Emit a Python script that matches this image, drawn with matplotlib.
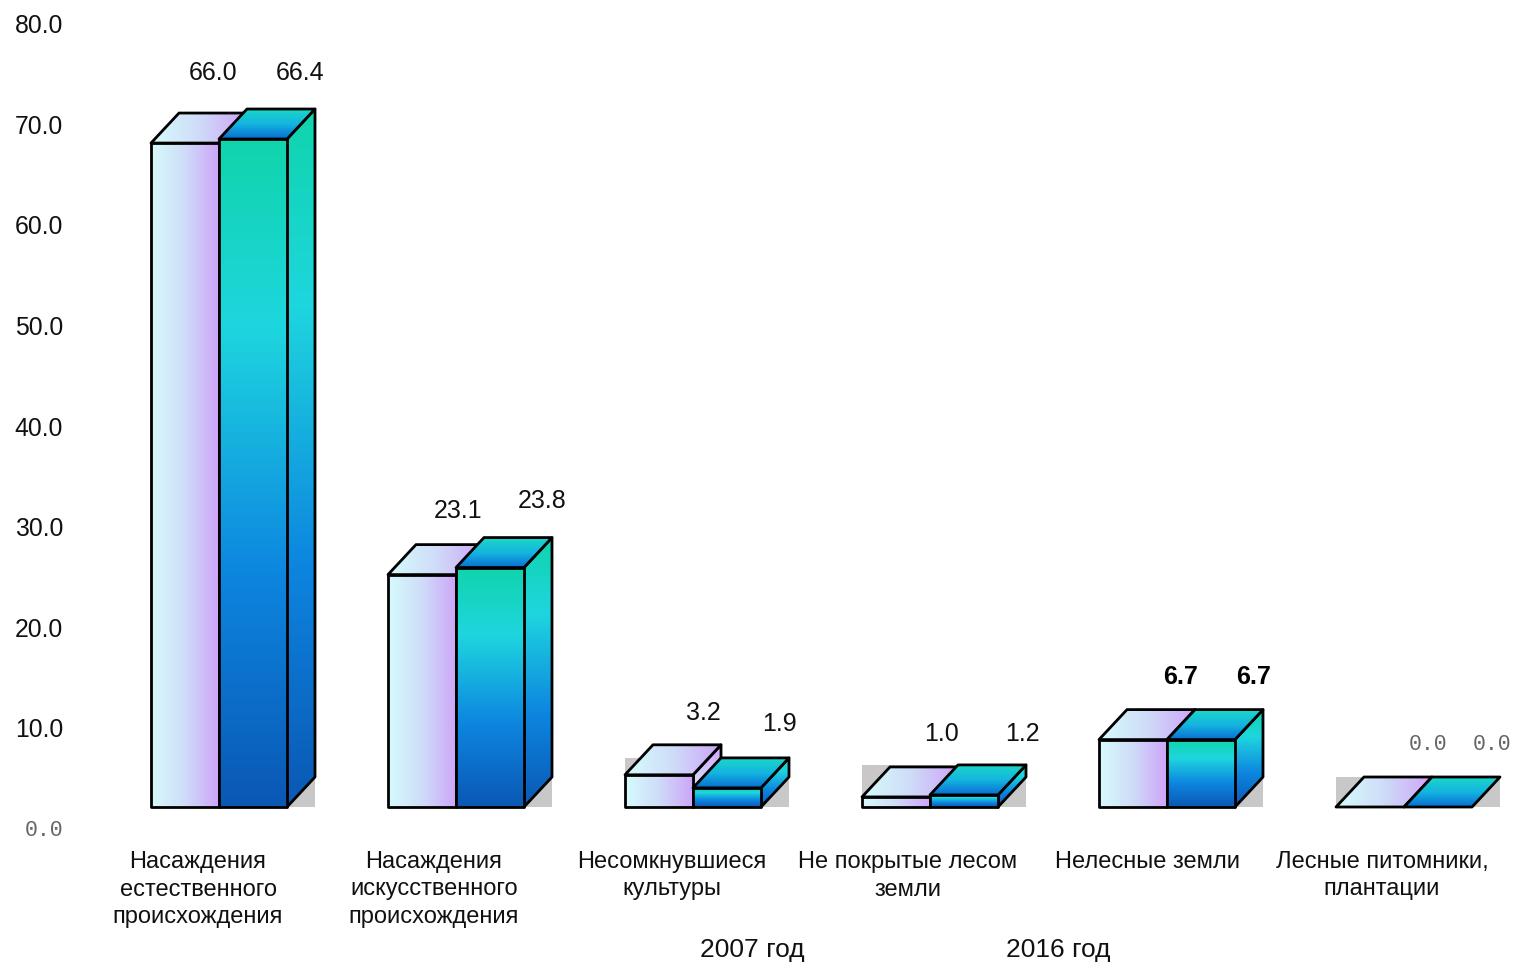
import numpy as np
import matplotlib
matplotlib.use('Agg')
import matplotlib.pyplot as plt
from matplotlib.colors import LinearSegmentedColormap
from matplotlib.patches import Polygon, Rectangle

categories = ['Насаждения\nестественного\nпроисхождения',
              'Насаждения\nискусственного\nпроисхождения',
              'Несомкнувшиеся\nкультуры',
              'Не покрытые лесом\nземли',
              'Нелесные земли',
              'Лесные питомники,\nплантации']
values_2007 = [66.0, 23.1, 3.2, 1.0, 6.7, 0.0]
values_2016 = [66.4, 23.8, 1.9, 1.2, 6.7, 0.0]
series_names = ['2007 год', '2016 год']
y_ticks = [0, 10, 20, 30, 40, 50, 60, 70, 80]

W, H = 1517, 964
BASE_PX = 807
PX_PER_UNIT = 10.06
GROUP_PX = 237
FIRST_PX = 219
BAR_W = 68 / GROUP_PX
DX = 28 / GROUP_PX
DY = 30 / PX_PER_UNIT
TEXT_DY = 2

lilac = LinearSegmentedColormap.from_list('lilac', ['#d6fcfc', '#cfdcf8', '#cda4f8'])
lilac_side = LinearSegmentedColormap.from_list('lilac_side', ['#d6fcfc', '#cda4f8'])
teal = LinearSegmentedColormap.from_list('teal', [(0, '#0a58b4'), (0.35, '#0d86e0'),
                                                  (0.72, '#1ed6de'), (1, '#10d4ac')])
teal_top = LinearSegmentedColormap.from_list('teal_top', ['#0a6cd2', '#14b4e0', '#1ad8c8'])

plt.rcParams['font.family'] = ['Liberation Sans', 'DejaVu Sans']
fig = plt.figure(figsize=(W / 100, H / 100), dpi=100)
ax = fig.add_axes([0, 0, 1, 1])
ax.axis('off')
xlim = (-FIRST_PX / GROUP_PX, (W - FIRST_PX) / GROUP_PX)
ylim = (-(H - BASE_PX) / PX_PER_UNIT, BASE_PX / PX_PER_UNIT)


def px(x, y):
    # picture pixels to data coordinates, only for placing the texts
    return (x - FIRST_PX) / GROUP_PX, (BASE_PX - y - TEXT_DY) / PX_PER_UNIT


order = [10]


def face(points, cmap, horizontal):
    points = np.array(points)
    z = order[0]
    order[0] += 2
    x0, x1 = points[:, 0].min(), points[:, 0].max()
    y0, y1 = points[:, 1].min(), points[:, 1].max()
    if y1 > y0:
        grad = np.linspace(0, 1, 256)
        grad = grad[None, :] if horizontal else grad[:, None]
        im = ax.imshow(grad, cmap=cmap, extent=(x0, x1, y0, y1), origin='lower',
                       aspect='auto', interpolation='bilinear', zorder=z)
        clip = Polygon(points, closed=True, transform=ax.transData)
        im.set_clip_path(clip)
    ax.add_patch(Polygon(points, closed=True, fill=False, edgecolor='black',
                         linewidth=2.0, joinstyle='round', zorder=z + 1))


def bar3d(left, value, front_cmap, front_h, side_cmap, top_cmap, top_h):
    right = left + BAR_W
    if value > 0:
        face([(right, 0), (right + DX, DY), (right + DX, value + DY), (right, value)],
             side_cmap, False)
    face([(left, value), (right, value), (right + DX, value + DY), (left + DX, value + DY)],
         top_cmap, top_h)
    if value > 0:
        face([(left, 0), (right, 0), (right, value), (left, value)], front_cmap, front_h)


for i in range(len(categories)):
    v1, v2 = values_2007[i], values_2016[i]
    # grey floor behind each pair, it reaches the back edge only on low bars
    shadow = DY + v2 if v2 <= 2 else DY
    ax.add_patch(Rectangle((i - BAR_W, 0), 2 * BAR_W + DX, shadow, facecolor='#c8c8c8',
                           edgecolor='none', zorder=5))
    bar3d(i - BAR_W, v1, lilac, True, lilac_side, lilac, True)
    bar3d(i, v2, teal, False, teal, teal_top, False)

ax.set_xlim(xlim)
ax.set_ylim(ylim)

# y labels sit about 22 px under their level in the original
for t in y_ticks:
    if t == 0:
        ax.text(*px(44, 829), '0.0', family=['Liberation Mono', 'DejaVu Sans Mono'], fontsize=15.5,
                color='#666666', ha='center', va='center')
    else:
        ax.text(*px(39, BASE_PX - t * PX_PER_UNIT + 22), '%.1f' % t, fontsize=17.8,
                color='#111111', ha='center', va='center')

label_px = [(213, 71), (300, 71), (458, 509), (542, 499), (703, 711), (779, 722),
            (941, 732), (1022, 732), (1181, 675), (1254, 675), (1428, 743), (1492, 743)]
label_vals = [v for pair in zip(values_2007, values_2016) for v in pair]
for (lx, ly), v, n in zip(label_px, label_vals, range(12)):
    if n >= 10:
        ax.text(*px(lx, ly), '%.1f' % v, family=['Liberation Mono', 'DejaVu Sans Mono'], fontsize=15.5,
                color='#666666', ha='center', va='center')
    elif n >= 8:
        ax.text(*px(lx, ly), '%.1f' % v, fontsize=18, fontweight='bold',
                color='black', ha='center', va='center')
    else:
        ax.text(*px(lx, ly), '%.1f' % v, fontsize=18, color='#111111', ha='center', va='center')

cat_centers = [198, 434, 672, 908, 1147, 1382]
for c, cat in zip(cat_centers, categories):
    for k, line in enumerate(cat.split('\n')):
        ax.text(*px(c, 860 + 27.5 * k), line, fontsize=17, color='#111111',
                ha='center', va='center')

ax.text(*px(752, 948), series_names[0], fontsize=19, color='#111111', ha='center', va='center')
ax.text(*px(1058, 948), series_names[1], fontsize=19, color='#111111', ha='center', va='center')

plt.savefig('out.png', dpi=100)
